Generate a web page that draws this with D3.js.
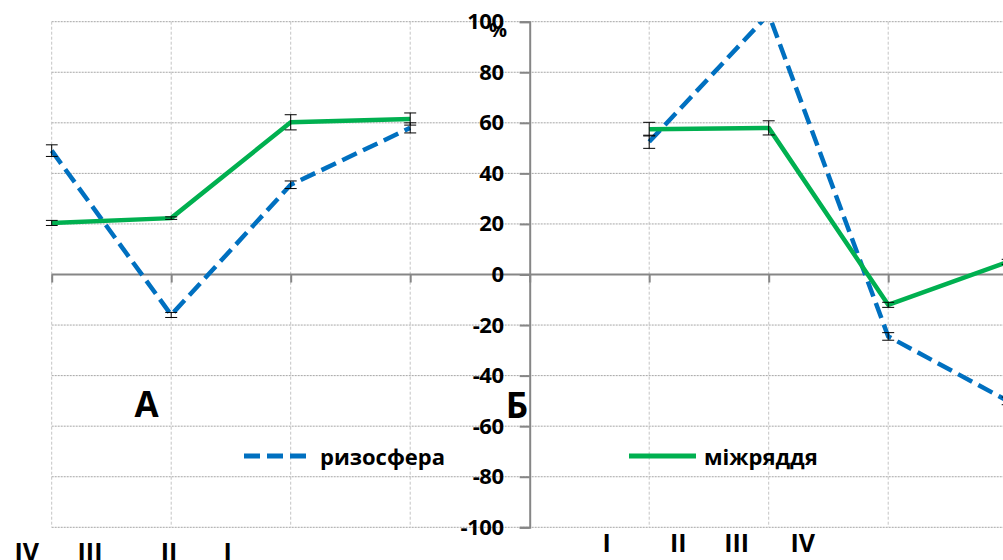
<!DOCTYPE html>
<html>
<head>
<meta charset="utf-8">
<script src="https://cdn.jsdelivr.net/npm/d3@7"></script>
<style>
  html, body { margin: 0; padding: 0; background: #fff; }
  svg { display: block; font-family: "Open Sans", "Noto Sans", sans-serif; font-weight: bold; }
</style>
</head>
<body>
<svg id="chart" width="1003" height="560"></svg>
<script>
// ---- data ----
const categories = ["A1", "A2", "A3", "A4", "axis", "B1", "B2", "B3", "B4"];
const rizosfera   = [49, -16, 35.5, 58, null, 52.5, 103, -24.5, -50];
const rizosferaErr = [2.3, 1, 1.5, 2, null, 2.6, 2.6, 1.5, 1.5];
const mizhryaddya = [20.4, 22.3, 60.2, 61.5, null, 57.5, 58, -12, 5];
const mizhryaddyaErr = [1, 0.5, 3, 2.4, null, 2.7, 2.8, 1, 1];
const yTicks = [-100, -80, -60, -40, -20, 0, 20, 40, 60, 80, 100];
const leftLabels = ["IV", "III", "II", "I"];
const rightLabels = ["I", "II", "III", "IV"];
const seriesNames = ["ризосфера", "міжряддя"];
const panelNames = ["А", "Б"];

// ---- layout ----
const W = 1003, H = 560;
const xLeft = 51.7, xRight = 1007.7;
const yTop = 21.7, yBot = 527.3;
const axisIndex = 4;
const blue = "#0070C0", green = "#00B050", axisGray = "#868686";

const svg = d3.select("#chart");
const x = d3.scalePoint().domain(categories).range([xLeft, xRight]);
const y = d3.scaleLinear().domain([-100, 100]).range([yBot, yTop]);
const axisX = x(categories[axisIndex]);

svg.append("defs").append("clipPath").attr("id", "plotclip")
  .append("rect").attr("x", xLeft - 6).attr("y", yTop).attr("width", W - xLeft + 6).attr("height", yBot - yTop);

// horizontal gridlines
svg.append("g").selectAll("line").data(yTicks).join("line")
  .attr("x1", xLeft).attr("x2", W)
  .attr("y1", d => y(d)).attr("y2", d => y(d))
  .attr("stroke", "#a6a6a6").attr("stroke-width", 1).attr("stroke-dasharray", "2,1");

// vertical gridlines
svg.append("g").selectAll("line").data(categories.filter((c, i) => i !== axisIndex)).join("line")
  .attr("x1", d => x(d)).attr("x2", d => x(d))
  .attr("y1", yTop).attr("y2", yBot)
  .attr("stroke", "#c4c4c4").attr("stroke-width", 1).attr("stroke-dasharray", "3,2");

// horizontal axis (at 0)
const xAxis = d3.axisBottom(x).tickSize(8).tickFormat("");
const gx = svg.append("g").attr("transform", `translate(0,${y(0)})`).call(xAxis);
gx.select(".domain").attr("d", `M${xLeft},0H${W}`);
gx.selectAll("path,line").attr("stroke", axisGray).attr("stroke-width", 2);

// vertical axis
const yAxis = d3.axisLeft(y).tickValues(yTicks).tickSize(10).tickPadding(16).tickSizeOuter(10)
  .tickFormat(d => String(d));
const gy = svg.append("g").attr("transform", `translate(${axisX},0)`).call(yAxis);
gy.selectAll("path,line").attr("stroke", axisGray).attr("stroke-width", 2);
gy.selectAll("text").attr("font-size", 22).attr("font-family", "'Open Sans', sans-serif")
  .attr("font-weight", "bold").attr("fill", "#000").attr("letter-spacing", "-0.4");
svg.append("text").attr("x", 498).attr("y", 37).attr("text-anchor", "middle")
  .attr("font-size", 20).attr("fill", "#000").text("%");

// lines
const plot = svg.append("g").attr("clip-path", "url(#plotclip)");
const line = d3.line()
  .defined(d => d.v !== null)
  .x(d => x(d.c)).y(d => y(d.v));
const toPts = arr => arr.map((v, i) => ({ c: categories[i], v }));

plot.append("path").datum(toPts(rizosfera)).attr("d", line)
  .attr("fill", "none").attr("stroke", blue).attr("stroke-width", 4.5)
  .attr("stroke-dasharray", "16,7").attr("stroke-linejoin", "round");
plot.append("path").datum(toPts(mizhryaddya)).attr("d", line)
  .attr("fill", "none").attr("stroke", green).attr("stroke-width", 4.5)
  .attr("stroke-linejoin", "round");

// error bars
function errBars(vals, errs) {
  const pts = vals.map((v, i) => ({ c: categories[i], v, e: errs[i] })).filter(d => d.v !== null);
  const g = plot.append("g").attr("stroke", "#000").attr("stroke-width", 1);
  g.selectAll(".v").data(pts).join("line")
    .attr("x1", d => x(d.c)).attr("x2", d => x(d.c))
    .attr("y1", d => y(d.v - d.e)).attr("y2", d => y(d.v + d.e));
  g.selectAll(".t").data(pts).join("line")
    .attr("x1", d => x(d.c) - 6).attr("x2", d => x(d.c) + 6)
    .attr("y1", d => y(d.v + d.e)).attr("y2", d => y(d.v + d.e));
  g.selectAll(".b").data(pts).join("line")
    .attr("x1", d => x(d.c) - 6).attr("x2", d => x(d.c) + 6)
    .attr("y1", d => y(d.v - d.e)).attr("y2", d => y(d.v - d.e));
}
errBars(rizosfera, rizosferaErr);
errBars(mizhryaddya, mizhryaddyaErr);

// legend
const legend = [
  { name: seriesNames[0], color: blue, dash: "16,7", x1: 244, x2: 312, tx: 320 },
  { name: seriesNames[1], color: green, dash: null, x1: 629, x2: 696, tx: 704 }
];
legend.forEach(l => {
  svg.append("line").attr("x1", l.x1).attr("x2", l.x2).attr("y1", 456).attr("y2", 456)
    .attr("stroke", l.color).attr("stroke-width", 5).attr("stroke-dasharray", l.dash);
  svg.append("text").attr("x", l.tx).attr("y", 465).attr("font-size", 22).attr("fill", "#000").text(l.name);
});

// panel letters
svg.append("text").attr("x", 146.7).attr("y", 417).attr("text-anchor", "middle")
  .attr("font-size", 35).attr("fill", "#000").text(panelNames[0]);
svg.append("text").attr("x", 517).attr("y", 418).attr("text-anchor", "middle")
  .attr("font-size", 35).attr("fill", "#000").text(panelNames[1]);

// roman numeral labels
const leftLabelX = [26.7, 90, 169, 227.7];
const rightLabelX = [606.7, 678.3, 736.7, 802.7];
svg.append("g").selectAll("text").data(leftLabels).join("text")
  .attr("x", (d, i) => leftLabelX[i]).attr("y", 560.5).attr("text-anchor", "middle")
  .attr("font-size", 25).attr("fill", "#000").text(d => d);
svg.append("g").selectAll("text").data(rightLabels).join("text")
  .attr("x", (d, i) => rightLabelX[i]).attr("y", 552).attr("text-anchor", "middle")
  .attr("font-size", 25).attr("fill", "#000").text(d => d);
</script>
</body>
</html>
